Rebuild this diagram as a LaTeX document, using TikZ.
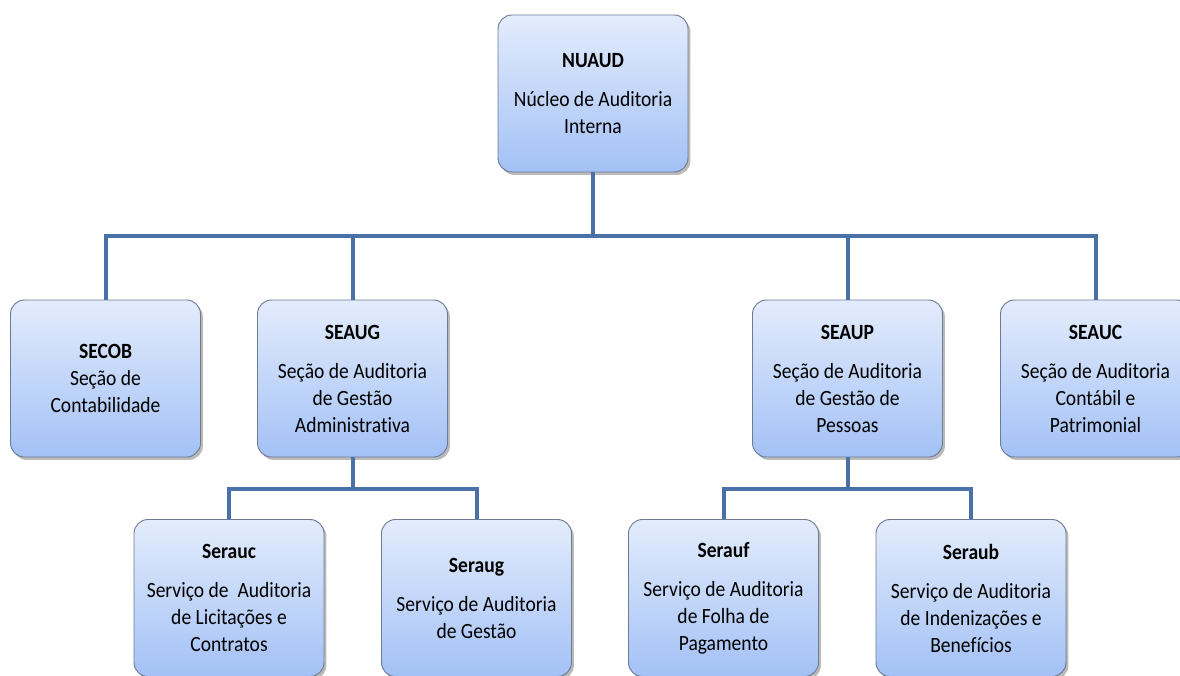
\documentclass[tikz,border=0pt]{standalone}
\usepackage{fontspec}
\setmainfont{Carlito}[FakeStretch=0.9, Ligatures={NoCommon}]
\usetikzlibrary{shadows}
\definecolor{boxtop}{HTML}{E3ECFC}
\definecolor{boxbot}{HTML}{A3C1F6}
\definecolor{boxline}{HTML}{6E7C93}
\definecolor{conncol}{HTML}{4A70A8}
\tikzset{
  unit/.style={draw=boxline, line width=0.7pt, rounded corners=10.5pt,
    top color=boxtop, bottom color=boxbot,
    minimum width=142.5pt, minimum height=117.75pt,
    align=center, font=\fontsize{16.3pt}{20.25pt}\selectfont, inner sep=0pt,
    drop shadow={shadow xshift=1.8pt, shadow yshift=-2.2pt, opacity=0.45, fill=black!60}},
  conn/.style={draw=conncol, line width=3pt}
}
\begin{document}
\begin{tikzpicture}[x=0.75pt,y=-0.75pt]
\useasboundingbox (0,0) rectangle (1180,675);
\fill[white] (0,0) rectangle (1180,675);
% boxes
\node[unit] (nuaud) at (593,93.5) {\textbf{NUAUD}\\[9pt]Núcleo de Auditoria\\Interna};
\node[unit] (secob) at (105.5,378.5) {\textbf{SECOB}\\Seção de\\Contabilidade};
\node[unit] (seaug) at (352.5,378.5) {\textbf{SEAUG}\\[9pt]Seção de Auditoria\\de Gestão\\Administrat\kern0pt iva};
\node[unit] (seaup) at (847.5,378.5) {\textbf{SEAUP}\\[9pt]Seção de Auditoria\\de Gestão de\\Pessoas};
\node[unit] (seauc) at (1095.5,378.5) {\textbf{SEAUC}\\[9pt]Seção de Auditoria\\Contábil e\\Patrimonial};
\node[unit] (serauc) at (229,598) {\textbf{Serauc}\\[9pt]Serviço de\ \ Auditoria\\de Licitações e\\Contratos};
\node[unit] (seraug) at (476.5,598) {\textbf{Seraug}\\[9pt]Serviço de Auditoria\\de Gestão};
\node[unit] (serauf) at (723.5,598) {\textbf{Serauf}\\[9pt]Serviço de Auditoria\\de Folha de\\Pagamento};
\node[unit] (seraub) at (971,598) {\textbf{Seraub}\\[9pt]Serviço de Auditoria\\de Indenizações e\\Benefícios};
% bus coordinates
\coordinate (bus) at (593,236);
\coordinate (busg) at (352.5,489);
\coordinate (busp) at (847.5,489);
% connectors
\draw[conn] (nuaud.south) -- (bus);
\draw[conn] (secob.north) |- (bus) -| (seauc.north);
\draw[conn] (seaug.north) -- (seaug.north |- bus);
\draw[conn] (seaup.north) -- (seaup.north |- bus);
\draw[conn] (seaug.south) -- (busg);
\draw[conn] (serauc.north) |- (busg) -| (seraug.north);
\draw[conn] (seaup.south) -- (busp);
\draw[conn] (serauf.north) |- (busp) -| (seraub.north);
\end{tikzpicture}
\end{document}
